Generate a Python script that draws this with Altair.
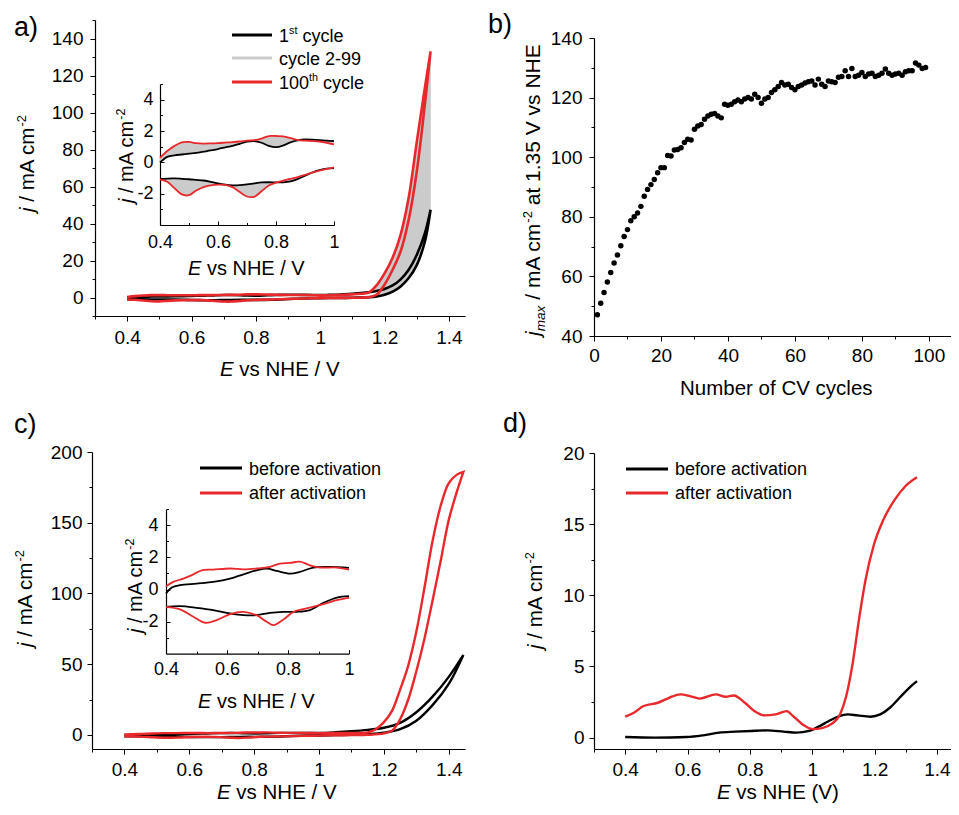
import altair as alt
import pandas as pd

FONT = "Liberation Sans"
RED = "#e8282b"
GRAY = "#cbcbcb"
W, H = 943, 795
SB = -4  # vertical shift of the bottom row

# ---------------- data ----------------
# panel a: 1st and 100th CV cycle on a common potential grid (V vs NHE), j in mA cm-2
A_E = [0.400, 0.425, 0.450, 0.475, 0.500, 0.525, 0.550, 0.575, 0.600, 0.625, 0.650, 0.675,
       0.700, 0.725, 0.750, 0.775, 0.800, 0.825, 0.850, 0.875, 0.900, 0.925, 0.950, 0.975,
       1.000, 1.025, 1.050, 1.075, 1.100, 1.125, 1.150, 1.175, 1.200, 1.225, 1.250, 1.275,
       1.300, 1.325, 1.343]
A1_UP = [0.0, 0.35, 0.45, 0.50, 0.55, 0.60, 0.68, 0.76, 0.85, 0.95, 1.05, 1.18, 1.32, 1.36,
         1.25, 1.05, 0.97, 1.08, 1.28, 1.40, 1.46, 1.45, 1.42, 1.38, 1.35,
         1.4, 1.5, 1.7, 2.0, 2.4, 2.8, 3.5, 4.6, 6.5, 9.8, 15, 23, 34.5, 47.4]
A1_DN = [-1.08, -1.04, -1.03, -1.05, -1.08, -1.12, -1.16, -1.24, -1.35, -1.43, -1.47, -1.46,
         -1.41, -1.34, -1.28, -1.27, -1.28, -1.28, -1.22, -1.06, -0.85, -0.65, -0.50, -0.40,
         -0.37, -0.3, -0.25, -0.2, -0.15, -0.05, 0.1, 0.5, 1.5, 3.2, 6.0, 10.5, 17.5, 30, 47.4]
A100_UP = [0.28, 0.72, 1.05, 1.28, 1.30, 1.22, 1.20, 1.21, 1.23, 1.26, 1.29, 1.33, 1.38, 1.42,
           1.52, 1.68, 1.68, 1.66, 1.55, 1.42, 1.38, 1.36, 1.33, 1.25, 1.14,
           1.2, 1.3, 1.5, 1.7, 2.0, 2.6, 6.5, 13, 21.5, 34, 54, 84, 113, 133]
A100_DN = [-1.08, -1.24, -1.65, -2.05, -2.10, -1.80, -1.58, -1.47, -1.42, -1.44, -1.58, -1.90,
           -2.18, -2.20, -1.85, -1.48, -1.30, -1.17, -1.06, -0.94, -0.80, -0.66, -0.53, -0.42,
           -0.32, -0.3, -0.25, -0.2, -0.15, -0.1, 0.2, 1.5, 7, 15, 25, 42, 68, 104, 133]

# panel b: j_max at 1.35 V vs cycle number
B_JMAX = [47.1, 51.0, 54.6, 58.1, 61.3, 64.5, 67.2, 70.3, 73.4, 75.7,
          78.7, 80.0, 81.3, 83.5, 86.9, 89.2, 90.8, 92.5, 94.8, 96.5,
          96.5, 100.6, 100.4, 102.4, 102.6, 103.2, 104.9, 106.0, 105.8, 109.4,
          110.5, 111.0, 112.7, 113.8, 114.4, 114.7, 113.8, 113.2, 117.8, 117.4,
          117.8, 118.6, 119.2, 118.6, 119.5, 120.0, 119.5, 121.1, 120.0, 118.1,
          119.5, 120.0, 121.7, 122.6, 123.7, 125.1, 124.2, 124.5, 123.4, 122.6,
          123.7, 124.2, 124.9, 125.3, 125.6, 124.2, 126.2, 124.5, 123.7, 125.6,
          125.3, 125.1, 126.8, 127.1, 129.0, 127.1, 129.8, 127.1, 127.5, 128.4,
          127.1, 127.9, 128.2, 127.1, 127.5, 128.2, 129.6, 128.2, 127.5, 127.9,
          128.2, 127.5, 128.7, 129.0, 129.0, 131.6, 130.9, 129.8, 130.1]
B_CYCLE = list(range(1, len(B_JMAX) + 1))

# panel c: CV before / after activation
CB_UP_E = [0.4, 0.419, 0.446, 0.5, 0.555, 0.61, 0.654, 0.697, 0.73, 0.763, 0.807, 0.839, 0.883,
           0.938, 1.0, 1.05, 1.1, 1.15, 1.2, 1.25, 1.3, 1.35, 1.4, 1.445]
CB_UP_J = [-0.25, 0.12, 0.27, 0.37, 0.48, 0.68, 0.95, 1.2, 1.31, 1.16, 0.99, 1.1, 1.37,
           1.41, 1.35, 1.8, 2.5, 3.5, 5.0, 8.5, 16, 27, 41, 56.5]
CB_DN_E = [0.4, 0.446, 0.5, 0.555, 0.61, 0.654, 0.697, 0.741, 0.785, 0.828, 0.872, 0.916, 0.96,
           1.0, 1.05, 1.1, 1.15, 1.2, 1.25, 1.3, 1.35, 1.4, 1.445]
CB_DN_J = [-1.08, -1.04, -1.14, -1.28, -1.49, -1.6, -1.6, -1.45, -1.39, -1.39, -1.28, -0.83, -0.5,
           -0.41, -0.2, 0.0, 0.5, 1.5, 4, 10, 21, 36, 56.5]
CR_UP_E = [0.4, 0.424, 0.457, 0.49, 0.517, 0.555, 0.61, 0.654, 0.697, 0.741, 0.774, 0.807, 0.839,
           0.872, 0.905, 0.96, 1.0, 1.05, 1.1, 1.15, 1.175, 1.2, 1.225, 1.25, 1.275, 1.3, 1.325,
           1.35, 1.375, 1.4, 1.425, 1.445]
CR_UP_J = [0.21, 0.48, 0.68, 0.95, 1.2, 1.24, 1.31, 1.26, 1.31, 1.41, 1.62, 1.66, 1.74,
           1.51, 1.37, 1.37, 1.24, 1.3, 1.4, 1.8, 4, 9, 17, 32, 49, 73, 104,
           137, 162, 178, 184, 186]
CR_DN_E = [0.4, 0.446, 0.49, 0.528, 0.566, 0.61, 0.654, 0.697, 0.73, 0.752, 0.785, 0.818, 0.861,
           0.916, 0.96, 1.0, 1.05, 1.1, 1.15, 1.2, 1.225, 1.25, 1.275, 1.3, 1.325, 1.35, 1.375,
           1.4, 1.425, 1.445]
CR_DN_J = [-1.08, -1.24, -1.7, -2.07, -1.91, -1.53, -1.39, -1.6, -2.01, -2.22, -1.87, -1.39, -1.18,
           -0.91, -0.66, -0.52, -0.3, -0.2, 0.0, 1.0, 3, 11, 25, 45, 68, 95, 123,
           152, 172, 186]

# panel d: LSV before / after activation
DB_E = [0.4, 0.495, 0.598, 0.65, 0.701, 0.753, 0.804, 0.856, 0.908, 0.949, 0.99, 1.02, 1.052,
        1.083, 1.114, 1.145, 1.187, 1.218, 1.249, 1.28, 1.311, 1.336]
DB_J = [0.04, 0.0, 0.04, 0.16, 0.35, 0.42, 0.47, 0.51, 0.42, 0.35, 0.47, 0.77, 1.15,
        1.47, 1.63, 1.56, 1.47, 1.63, 2.1, 2.8, 3.5, 3.97]
DR_E = [0.4, 0.428, 0.459, 0.505, 0.541, 0.577, 0.608, 0.639, 0.691, 0.722, 0.748, 0.784, 0.815,
        0.846, 0.882, 0.918, 0.939, 0.97, 1.001, 1.032, 1.063, 1.089, 1.109, 1.13, 1.15, 1.171,
        1.197, 1.228, 1.264, 1.3, 1.336]
DR_J = [1.47, 1.75, 2.22, 2.45, 2.8, 3.04, 2.92, 2.74, 3.04, 2.87, 2.96, 2.45, 1.86,
        1.56, 1.63, 1.86, 1.5, 0.91, 0.6, 0.67, 0.98, 1.63, 2.92, 5.27, 8.31, 11.1,
        13.5, 15.3, 16.7, 17.7, 18.3]


# ---------------- helpers ----------------
def loop_df(e_up, j_up, e_dn, j_dn):
    rows = [{"E": e, "j": v, "i": k, "br": "up"} for k, (e, v) in enumerate(zip(e_up, j_up))]
    n = len(rows)
    rows += [{"E": e, "j": v, "i": n + k, "br": "dn"}
             for k, (e, v) in enumerate(zip(e_dn[::-1], j_dn[::-1]))]
    return pd.DataFrame(rows)


def XS(domain, p0, p1):
    return alt.Scale(domain=domain, range=[p0 - 8, p1 - 8], nice=False, zero=False)


def YS(domain, pb, pt):
    return alt.Scale(domain=domain, range=[pb - 8, pt - 8], nice=False, zero=False)


LABEL_EXPR = "replace(format(datum.value, '~g'), '\u2212', '-')"


def ax(orient, at, values, size, labels=False, domain=False, lsize=19, lpad=6):
    p = at - 8
    off = {"left": -p, "right": p - W, "bottom": p - H, "top": -p}[orient]
    kw = dict(orient=orient, offset=off, values=values, ticks=size > 0, tickSize=size,
              labels=labels, domain=domain, grid=False, title=None, labelOverlap=False,
              labelFlush=False, domainColor="black", domainWidth=1.2, tickColor="black",
              tickWidth=1)
    if labels:
        kw.update(labelFont=FONT, labelFontSize=lsize, labelColor="black", labelPadding=lpad,
                  labelExpr=LABEL_EXPR)
    return alt.Axis(**kw)


ONE = pd.DataFrame({"k": [0]})


def txt(s, x, y, fs, italic=False, angle=0):
    kw = dict(text=s, font=FONT, fontSize=fs, fontStyle="italic" if italic else "normal",
              align="left", baseline="alphabetic", color="black")
    if angle:
        kw["angle"] = angle
    return alt.Chart(ONE).mark_text(**kw).encode(x=alt.value(x - 8), y=alt.value(y - 8))


AW = {" ": 278, "(": 333, ")": 333, "-": 333, ".": 278, "/": 278, "A": 667, "C": 722, "E": 667,
      "H": 722, "N": 722, "V": 667, "a": 556, "b": 556, "c": 500, "d": 556, "e": 556, "f": 278,
      "h": 556, "i": 222, "j": 222, "l": 222, "m": 833, "n": 556, "o": 556, "r": 333, "s": 500,
      "t": 278, "u": 556, "v": 500, "x": 500, "y": 500}


def tw(s, fs):
    return sum(AW.get(c, 556) for c in s) * fs / 1000.0


def run(parts, x0, y0, fs, vertical=False):
    out, pos = [], 0.0
    for text, italic, scale, shift in parts:
        f = fs * scale
        lead = len(text) - len(text.lstrip(" "))
        start = pos + tw(text[:lead], f)
        body = text.strip(" ")
        if vertical:
            out.append(txt(body, x0 + shift * fs, y0 - start, f, italic, angle=270))
        else:
            out.append(txt(body, x0 + start, y0 + shift * fs, f, italic))
        pos += tw(text, f)
    return out


def rule(x0, x1, y, color, w=3):
    return alt.Chart(ONE).mark_rule(color=color, strokeWidth=w).encode(
        x=alt.value(x0 - 8), x2=alt.value(x1 - 8), y=alt.value(y - 8))


J_TITLE = [("j", True, 1, 0), (" / mA cm", False, 1, 0), ("-2", False, 0.62, -0.4)]
E_TITLE = [("E", True, 1, 0), (" vs NHE / V", False, 1, 0)]

layers = []

# ---------------- panel a ----------------
AX = XS([0.3, 1.45], 95, 465)
AY = YS([-10, 150], 316, 20)
fill_a = pd.DataFrame({"E": A_E, "b_up": A1_UP, "r_up": A100_UP, "b_dn": A1_DN, "r_dn": A100_DN})
loop_a1 = loop_df(A_E, A1_UP, A_E, A1_DN)
loop_a100 = loop_df(A_E, A100_UP, A_E, A100_DN)

layers.append(alt.Chart(fill_a).mark_area(color=GRAY, interpolate="catmull-rom").encode(
    x=alt.X("E:Q", scale=AX, axis=ax("bottom", 316, [0.3, 0.5, 0.7, 0.9, 1.1, 1.3], 3)),
    y=alt.Y("b_up:Q", scale=AY, axis=ax("left", 95, list(range(-10, 151, 20)), 3)),
    y2="r_up:Q"))
layers.append(alt.Chart(fill_a).mark_area(color=GRAY, interpolate="catmull-rom").encode(
    x=alt.X("E:Q", scale=AX, axis=ax("bottom", 316, [0.4, 0.6, 0.8, 1.0, 1.2, 1.4], 5,
                                     labels=True, domain=True, lpad=7)),
    y=alt.Y("b_dn:Q", scale=AY, axis=ax("left", 95, list(range(0, 141, 20)), 5,
                                         labels=True, domain=True, lpad=7)),
    y2="r_dn:Q"))
for df, col in [(loop_a1, "black"), (loop_a100, RED)]:
    layers.append(alt.Chart(df).mark_line(color=col, strokeWidth=2.6, interpolate="catmull-rom").encode(
        x=alt.X("E:Q", scale=AX, axis=None), y=alt.Y("j:Q", scale=AY, axis=None), order="i:Q"))

# inset a
AIX = XS([0.4, 1.0], 160, 334)
AIY = YS([-4, 5], 225, 84)
fill_ai = fill_a[fill_a["E"] <= 1.0001]
layers.append(alt.Chart(fill_ai).mark_area(color=GRAY, interpolate="catmull-rom").encode(
    x=alt.X("E:Q", scale=AIX, axis=ax("bottom", 225, [0.4, 0.6, 0.8, 1.0], 0, labels=True,
                                      domain=True, lsize=18, lpad=8)),
    y=alt.Y("b_up:Q", scale=AIY, axis=ax("left", 160, [-2, 0, 2, 4], 0, labels=True,
                                          domain=True, lsize=18, lpad=7)),
    y2="r_up:Q"))
layers.append(alt.Chart(fill_ai).mark_area(color=GRAY, interpolate="catmull-rom").encode(
    x=alt.X("E:Q", scale=AIX, axis=ax("top", 225, [0.4, 0.6, 0.8, 1.0], 4)),
    y=alt.Y("b_dn:Q", scale=AIY, axis=ax("right", 160, [-2, 0, 2, 4], 4)),
    y2="r_dn:Q"))
first = True
for df, col in [(loop_a1, "black"), (loop_a100, RED)]:
    d = df[df["E"] <= 1.0001]
    xa = ax("top", 225, [0.5, 0.7, 0.9], 2.5) if first else None
    ya = ax("right", 160, [-3, -1, 1, 3, 5], 2.5) if first else None
    layers.append(alt.Chart(d).mark_line(color=col, strokeWidth=1.8, interpolate="catmull-rom").encode(
        x=alt.X("E:Q", scale=AIX, axis=xa), y=alt.Y("j:Q", scale=AIY, axis=ya),
        detail="br:N", order="i:Q"))
    first = False

# ---------------- panel b ----------------
BX = XS([0, 106.6], 594, 951)
BY = YS([40, 140], 336, 38)
df_b = pd.DataFrame({"cycle": B_CYCLE, "jmax": B_JMAX})
layers.append(alt.Chart(df_b).mark_circle(size=30, color="black", opacity=0).encode(
    x=alt.X("cycle:Q", scale=BX, axis=ax("bottom", 336, [10, 30, 50, 70, 90], 3)),
    y=alt.Y("jmax:Q", scale=BY, axis=ax("left", 594, [50, 70, 90, 110, 130], 3))))
layers.append(alt.Chart(df_b).mark_circle(size=30, color="black", opacity=1).encode(
    x=alt.X("cycle:Q", scale=BX, axis=ax("bottom", 336, [0, 20, 40, 60, 80, 100], 5,
                                         labels=True, domain=True, lpad=5)),
    y=alt.Y("jmax:Q", scale=BY, axis=ax("left", 594, [40, 60, 80, 100, 120, 140], 5,
                                         labels=True, domain=True, lpad=7))))

# ---------------- panel c ----------------
CBOT, CTOP = 753 + SB, 456 + SB
CX = XS([0.3, 1.45], 92, 465)
CY = YS([-10, 200], CBOT, CTOP)
loop_cb = loop_df(CB_UP_E, CB_UP_J, CB_DN_E, CB_DN_J)
loop_cr = loop_df(CR_UP_E, CR_UP_J, CR_DN_E, CR_DN_J)
layers.append(alt.Chart(loop_cb).mark_line(color="black", strokeWidth=2.4, interpolate="catmull-rom").encode(
    x=alt.X("E:Q", scale=CX, axis=ax("bottom", CBOT, [0.3, 0.5, 0.7, 0.9, 1.1, 1.3], 3)),
    y=alt.Y("j:Q", scale=CY, axis=ax("left", 92, [25, 75, 125, 175], 3)), order="i:Q"))
layers.append(alt.Chart(loop_cr).mark_line(color=RED, strokeWidth=2.4, interpolate="catmull-rom").encode(
    x=alt.X("E:Q", scale=CX, axis=ax("bottom", CBOT, [0.4, 0.6, 0.8, 1.0, 1.2, 1.4], 5,
                                     labels=True, domain=True, lpad=6)),
    y=alt.Y("j:Q", scale=CY, axis=ax("left", 92, [0, 50, 100, 150, 200], 5,
                                      labels=True, domain=True, lpad=5)), order="i:Q"))

# inset c
CIB, CIT = 657.7 + SB, 513.3 + SB
CIX = XS([0.4, 1.0], 166, 349)
CIY = YS([-4, 5], CIB, CIT)
cbi = loop_cb[loop_cb["E"] <= 1.0001]
cri = loop_cr[loop_cr["E"] <= 1.0001]
layers.append(alt.Chart(cbi).mark_line(color="black", strokeWidth=0, opacity=0).encode(
    x=alt.X("E:Q", scale=CIX, axis=ax("top", CIB, [0.5, 0.7, 0.9], 2.5)),
    y=alt.Y("j:Q", scale=CIY, axis=ax("right", 166, [-3, -1, 1, 3, 5], 2.5)),
    detail="br:N", order="i:Q"))
layers.append(alt.Chart(cbi).mark_line(color="black", strokeWidth=1.8, interpolate="catmull-rom").encode(
    x=alt.X("E:Q", scale=CIX, axis=ax("bottom", CIB, [0.4, 0.6, 0.8, 1.0], 0, labels=True,
                                      domain=True, lsize=18, lpad=7)),
    y=alt.Y("j:Q", scale=CIY, axis=ax("left", 166, [-2, 0, 2, 4], 0, labels=True,
                                       domain=True, lsize=18, lpad=8)),
    detail="br:N", order="i:Q"))
layers.append(alt.Chart(cri).mark_line(color=RED, strokeWidth=1.8, interpolate="catmull-rom").encode(
    x=alt.X("E:Q", scale=CIX, axis=ax("top", CIB, [0.4, 0.6, 0.8, 1.0], 4)),
    y=alt.Y("j:Q", scale=CIY, axis=ax("right", 166, [-2, 0, 2, 4], 4)),
    detail="br:N", order="i:Q"))

# ---------------- panel d ----------------
DBOT, DTOP = 753 + SB, 457 + SB
DX = XS([0.3, 1.445], 594, 951)
DY = YS([-0.8, 20], DBOT, DTOP)
df_db = pd.DataFrame({"E": DB_E, "j": DB_J})
df_dr = pd.DataFrame({"E": DR_E, "j": DR_J})
layers.append(alt.Chart(df_db).mark_line(color="black", strokeWidth=2.4, interpolate="monotone").encode(
    x=alt.X("E:Q", scale=DX, axis=ax("bottom", DBOT, [0.3, 0.5, 0.7, 0.9, 1.1, 1.3], 3)),
    y=alt.Y("j:Q", scale=DY, axis=ax("left", 594, [2.5, 7.5, 12.5, 17.5], 3))))
layers.append(alt.Chart(df_dr).mark_line(color=RED, strokeWidth=2.4, interpolate="monotone").encode(
    x=alt.X("E:Q", scale=DX, axis=ax("bottom", DBOT, [0.4, 0.6, 0.8, 1.0, 1.2, 1.4], 5,
                                     labels=True, domain=True, lpad=6)),
    y=alt.Y("j:Q", scale=DY, axis=ax("left", 594, [0, 5, 10, 15, 20], 5,
                                      labels=True, domain=True, lpad=5))))

# ---------------- legends ----------------
layers += [rule(232, 272, 35, "black"), rule(232, 272, 58, GRAY), rule(232, 272, 82, RED)]
layers += run([("1", False, 1, 0), ("st", False, 0.6, -0.42), (" cycle", False, 1, 0)], 279, 41.5, 18)
layers.append(txt("cycle 2-99", 279, 64.5, 18))
layers += run([("100", False, 1, 0), ("th", False, 0.6, -0.42), (" cycle", False, 1, 0)], 279, 88.5, 18)

layers += [rule(200, 242, 472 + SB, "black"), rule(200, 242, 497 + SB, RED)]
layers += [txt("before activation", 249, 478.5 + SB, 18), txt("after activation", 249, 503 + SB, 18)]
layers += [rule(626, 668, 473 + SB, "black"), rule(626, 668, 497 + SB, RED)]
layers += [txt("before activation", 675, 479 + SB, 18), txt("after activation", 675, 503 + SB, 18)]

# ---------------- axis titles ----------------
layers += run(J_TITLE, 34, 212, 20.5, vertical=True)
layers += run(E_TITLE, 220, 376, 20.5)
layers += run(J_TITLE, 133, 203, 20, vertical=True)
layers += run(E_TITLE, 188, 275, 20)

layers += run([("j", True, 1, 0), ("max", True, 0.65, 0.22), (" / mA cm", False, 1, 0),
               ("-2", False, 0.62, -0.4), (" at 1.35 V vs NHE", False, 1, 0)],
              540, 336, 21, vertical=True)
layers += run([("Number of CV cycles", False, 1, 0)], 680, 395, 20.5)

layers += run(J_TITLE, 32, 651 + SB, 20.5, vertical=True)
layers += run(E_TITLE, 217, 798.5, 20.5)
layers += run(J_TITLE, 142, 637 + SB, 20, vertical=True)
layers += run(E_TITLE, 198, 712 + SB, 20)

layers += run(J_TITLE, 542, 653 + SB, 20.5, vertical=True)
layers += run([("E", True, 1, 0), (" vs NHE (V)", False, 1, 0)], 717, 798.5, 20.5)

# ---------------- panel labels ----------------
layers += [txt("a)", 14, 36, 27), txt("b)", 488, 33, 27),
           txt("c)", 14, 437 + SB, 27), txt("d)", 503, 436 + SB, 27)]

chart = (
    alt.layer(*layers)
    .resolve_scale(x="independent", y="independent")
    .resolve_axis(x="independent", y="independent")
    .properties(width=W, height=H, padding=0, autosize=alt.AutoSizeParams(type="none"))
    .configure_view(stroke=None)
)

chart.save("out.html", embed_options={"renderer": "svg", "actions": False})
